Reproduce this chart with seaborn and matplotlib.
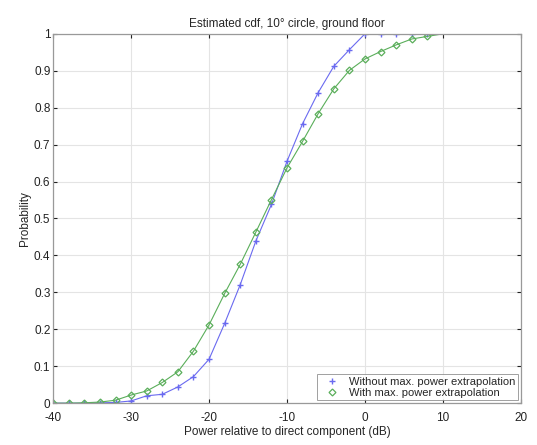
import matplotlib
matplotlib.use("Agg")
import matplotlib.pyplot as plt
import seaborn as sns
import numpy as np
import pandas as pd

power_db = [-40, -38, -36, -34, -32, -30, -28, -26, -24, -22, -20, -18, -16,
            -14, -12, -10, -8, -6, -4, -2, 0, 2, 4, 6, 8, 10]
without_extrap = [0.0, 0.0, 0.0, 0.001, 0.002, 0.006, 0.020, 0.024, 0.044, 0.072,
                  0.119, 0.216, 0.321, 0.439, 0.538, 0.655, 0.757, 0.841, 0.912,
                  0.957, 1.0, 1.0, 1.0, 1.0, 1.0, 1.0]
with_extrap = [0.0, 0.0, 0.001, 0.003, 0.008, 0.022, 0.033, 0.056, 0.085, 0.141,
               0.212, 0.297, 0.376, 0.463, 0.551, 0.637, 0.709, 0.784, 0.851,
               0.901, 0.932, 0.952, 0.970, 0.986, 0.993, 1.0]
labels = ["Without max. power extrapolation", "With max. power extrapolation"]
x_ticks = [-40, -30, -20, -10, 0, 10, 20]
y_ticks = [0, 0.1, 0.2, 0.3, 0.4, 0.5, 0.6, 0.7, 0.8, 0.9, 1]

sns.set_style("white")
plt.rcParams['font.family'] = ['Liberation Sans', 'DejaVu Sans']
plt.rcParams['axes.unicode_minus'] = False

df = pd.DataFrame({"x": power_db, "a": without_extrap, "b": with_extrap})

fig = plt.figure(figsize=(5.37, 4.45), dpi=100)
ax = fig.add_axes([0.099, 0.094, 0.871, 0.830])

blue = "#6a6af0"
green = "#5aae5a"
sns.lineplot(data=df, x="x", y="a", ax=ax, color=blue, lw=0.8, marker="+",
             markersize=5, mew=1.0, mec=blue, markevery=list(range(len(power_db) - 1)),
             label=labels[0])
sns.lineplot(data=df, x="x", y="b", ax=ax, color=green, lw=0.8, marker="D",
             markersize=3.5, mew=0.9, mfc="none", mec=green,
             markevery=list(range(len(power_db) - 1)), label=labels[1])

ax.set_xlim(-40, 20)
ax.set_ylim(0, 1)
ax.set_xticks(x_ticks)
ax.set_yticks(y_ticks)
ax.set_yticklabels([f"{v:g}" for v in y_ticks])
ax.grid(True, color="#e4e4e4", lw=0.8)
ax.set_axisbelow(True)
ax.tick_params(direction="in", length=3, labelsize=8.5, colors="#222222",
               top=True, right=True, bottom=True, left=True, pad=2)
ax.tick_params(axis="x", pad=6)
for s in ax.spines.values():
    s.set_color("#999999")
    s.set_linewidth(0.9)

ax.set_title("Estimated cdf, 10° circle, ground floor", fontsize=8.5, pad=5)
ax.set_xlabel("Power relative to direct component (dB)", fontsize=8.5, labelpad=2)
ax.set_ylabel("Probability", fontsize=8.5, labelpad=2)

leg = ax.legend(loc="lower right", fontsize=8, frameon=True, fancybox=False,
                edgecolor="#888888", borderpad=0.25, handlelength=2.2,
                handletextpad=0.4, labelspacing=0.1, borderaxespad=0.25)
leg.get_frame().set_linewidth(0.7)
for h in leg.get_lines():
    h.set_linestyle("none")

fig.savefig("out.png", dpi=100, facecolor="white")
